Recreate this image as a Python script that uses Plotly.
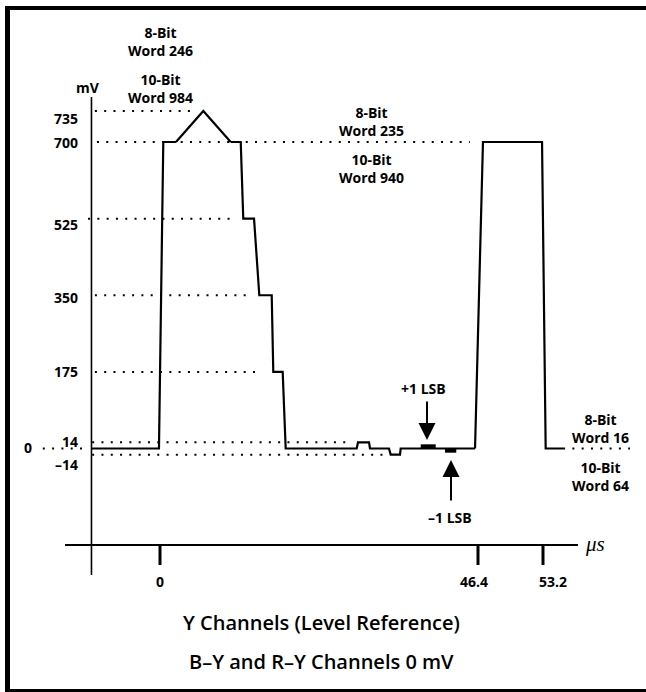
import plotly.graph_objects as go

W, H = 646, 692

# ---------------- data (time in µs, level in mV) ----------------
# Y-channel level-reference waveform, first part (drawn on the main time scale)
pulse1_t = [-10.0, -0.15, 0.48, 2.33]
pulse1_mv = [0, 0, 700, 700]
# overshoot to 735 mV (drawn on the expanded top scale)
overshoot_t = [2.33, 6.32, 10.32]
overshoot_mv = [700, 735, 700]
# staircase down and baseline with +/- 1 LSB features
stair_t = [10.32, 11.78, 12.15, 13.72, 14.49, 16.30, 16.53, 17.90, 18.34,
           28.70, 28.89, 30.50, 30.64, 33.41, 33.66, 35.02, 35.12, 45.96]
stair_mv = [700, 700, 525, 525, 350, 350, 175, 175, 0,
            0, 14, 14, 0, 0, -14, -14, 0, 0]
# second pulse 46.4 .. 53.2 µs (drawn on the expanded end scale)
pulse2_t = [46.09, 46.92, 53.10, 53.48, 55.29]
pulse2_mv = [0, 700, 700, 0, 0]
# +1 LSB / -1 LSB marks
lsb_up_t, lsb_up_mv = [38.04, 40.23], [5, 5]
lsb_dn_t, lsb_dn_mv = [41.59, 43.23], [-5, -5]

# dotted reference levels
ref_levels = [700, 525, 350, 175, 14, -14]
ref_start = [-9.2, -10.5, -9.5, -9.5, -9.9, -9.9]
ref_end = [45.2, 10.5, 12.9, 14.8, 28.0, 32.8]
ref735_t, ref735_mv = [-9.5, 4.6], [735, 735]
ref0_left_t = [-17.1, -10.5]
ref0_right_t = [55.3, 62.3]

# axis labels
level_ticks = [700, 525, 350, 175, 14, -14]
level_tick_text = ["700", "525", "350", "175", "14", "\u201314"]
time_ticks = [0, 46.4, 53.2]
time_tick_text = ["0", "46.4", "53.2"]

# ---------------- scales (schematic, not to scale) ----------------
s1 = 318 / 46.4          # px per µs, main part
s2 = 65 / 6.8            # px per µs, 46.4..53.2 part
sy = 306.5 / 700         # px per mV
sy2 = 31 / 35            # px per mV, overshoot part
x1_range = [-160 / s1, (W - 160) / s1]
x2_range = [46.4 - 478 / s2, 46.4 + (W - 478) / s2]
y1_range = [-(H - 448.5) / sy, 448.5 / sy]
y2_range = [700 - (H - 142) / sy2, 700 + 142 / sy2]

FONT = "Open Sans"
BLACK = "#000000"
DOT = "2px,7.3px"

fig = go.Figure()


def line(t, v, xa="x", ya="y", width=2.2, dash=None):
    fig.add_trace(go.Scatter(x=t, y=v, xaxis=xa, yaxis=ya, mode="lines",
                             line=dict(color=BLACK, width=width, dash=dash),
                             hoverinfo="skip", showlegend=False))


# dotted guides
for lv, a, b in zip(ref_levels, ref_start, ref_end):
    line([a, b], [lv, lv], width=2, dash=DOT)
line(ref735_t, ref735_mv, ya="y2", width=2, dash=DOT)
line(ref0_left_t, [0, 0], width=2, dash=DOT)
line(ref0_right_t, [0, 0], xa="x2", width=2, dash=DOT)

# waveform
line(pulse1_t, pulse1_mv)
line(overshoot_t, overshoot_mv, ya="y2")
line(stair_t, stair_mv)
line(pulse2_t, pulse2_mv, xa="x2")
line(lsb_up_t, lsb_up_mv, width=4)
line(lsb_dn_t, lsb_dn_mv, width=4)


def px(x):
    return x / W


def py(y):
    return 1 - y / H


shapes = []
# frame
shapes.append(dict(type="line", xref="paper", yref="paper", x0=px(7.5), x1=px(7.5),
                   y0=py(6), y1=py(H), line=dict(color=BLACK, width=5)))
shapes.append(dict(type="line", xref="paper", yref="paper", x0=px(5), x1=px(W),
                   y0=py(8), y1=py(8), line=dict(color=BLACK, width=4)))
shapes.append(dict(type="line", xref="paper", yref="paper", x0=px(5), x1=px(W),
                   y0=py(690.5), y1=py(690.5), line=dict(color=BLACK, width=3)))
# axes
shapes.append(dict(type="line", xref="x", yref="paper", x0=-10, x1=-10,
                   y0=py(97), y1=py(575), line=dict(color=BLACK, width=1.6)))
shapes.append(dict(type="line", xref="paper", yref="paper", x0=px(65), x1=px(578),
                   y0=py(545), y1=py(545), line=dict(color=BLACK, width=2.2)))
# time ticks
for t, xa in zip(time_ticks, ["x", "x", "x2"]):
    shapes.append(dict(type="line", xref=xa, yref="paper", x0=t, x1=t,
                       y0=py(545), y1=py(565), line=dict(color=BLACK, width=3)))

ann = []


def text(x, y, s, xref="paper", yref="paper", size=14, weight=700, xanchor="center",
         yanchor="middle", xshift=0, yshift=0, family=FONT, style="normal"):
    ann.append(dict(x=x, y=y, xref=xref, yref=yref, text=s, showarrow=False,
                    xanchor=xanchor, yanchor=yanchor, xshift=xshift, yshift=yshift,
                    font=dict(family=family, size=size, color=BLACK, weight=weight,
                              style=style)))


# level tick labels
label_t = -11.7
text(label_t, 735, "735", xref="x", yref="y2", xanchor="right", yshift=-7)
level_shift = [0, -6, -2, 0, 1, -10]
for lv, s, ys in zip(level_ticks, level_tick_text, level_shift):
    text(label_t, lv, s, xref="x", yref="y", xanchor="right", yshift=ys)
text(px(28), 0, "0", yref="y", yshift=1)
text(px(88), py(87.5), "mV")

# time tick labels
for t, s, xa, xs in zip(time_ticks, time_tick_text, ["x", "x", "x2"], [0, -4, 10]):
    text(t, py(581), s, xref=xa, xshift=xs)
text(px(595), py(544), "\u03bcs", family="Liberation Serif", size=21, weight=400,
     style="italic")

# word annotations
text(px(160), py(41.5), "8-Bit<br>Word 246")
text(px(160), py(88), "10-Bit<br>Word 984")
text(px(371), py(121.5), "8-Bit<br>Word 235")
text(px(371), py(168.5), "10-Bit<br>Word 940")
text(px(600), py(428.5), "8-Bit<br>Word 16")
text(px(600), py(476), "10-Bit<br>Word 64")
text(px(423), py(389), "+1 LSB")
text(px(450), py(517.5), "\u20131 LSB")

# titles
text(px(321.5), py(622.5), "Y Channels (Level Reference)", size=20, weight=600)
text(px(321.5), py(661), "B\u2013Y and R\u2013Y Channels 0 mV", size=20, weight=600)

# LSB arrows
ann.append(dict(x=px(427), y=py(440), xref="paper", yref="paper", text="",
                showarrow=True, axref="pixel", ayref="pixel", ax=0, ay=-40,
                arrowhead=2, arrowsize=1.7, arrowwidth=2, arrowcolor=BLACK))
ann.append(dict(x=px(451), y=py(460), xref="paper", yref="paper", text="",
                showarrow=True, axref="pixel", ayref="pixel", ax=0, ay=42,
                arrowhead=2, arrowsize=1.7, arrowwidth=2, arrowcolor=BLACK))

ax_common = dict(visible=False, showgrid=False, zeroline=False, fixedrange=True,
                 autorange=False)
fig.update_layout(
    width=W, height=H, margin=dict(l=0, r=0, t=0, b=0),
    paper_bgcolor="white", plot_bgcolor="white",
    xaxis=dict(range=x1_range, domain=[0, 1], anchor="y", **ax_common),
    xaxis2=dict(range=x2_range, overlaying="x", anchor="y", **ax_common),
    yaxis=dict(range=y1_range, domain=[0, 1], anchor="x", **ax_common),
    yaxis2=dict(range=y2_range, overlaying="y", anchor="x", **ax_common),
    shapes=shapes, annotations=ann, showlegend=False,
    font=dict(family=FONT, color=BLACK),
)

fig.write_html(
    "out.html",
    config={"displayModeBar": False, "staticPlot": True},
    post_script="document.body.style.margin='0px';"
                "document.body.style.overflow='hidden';",
)
